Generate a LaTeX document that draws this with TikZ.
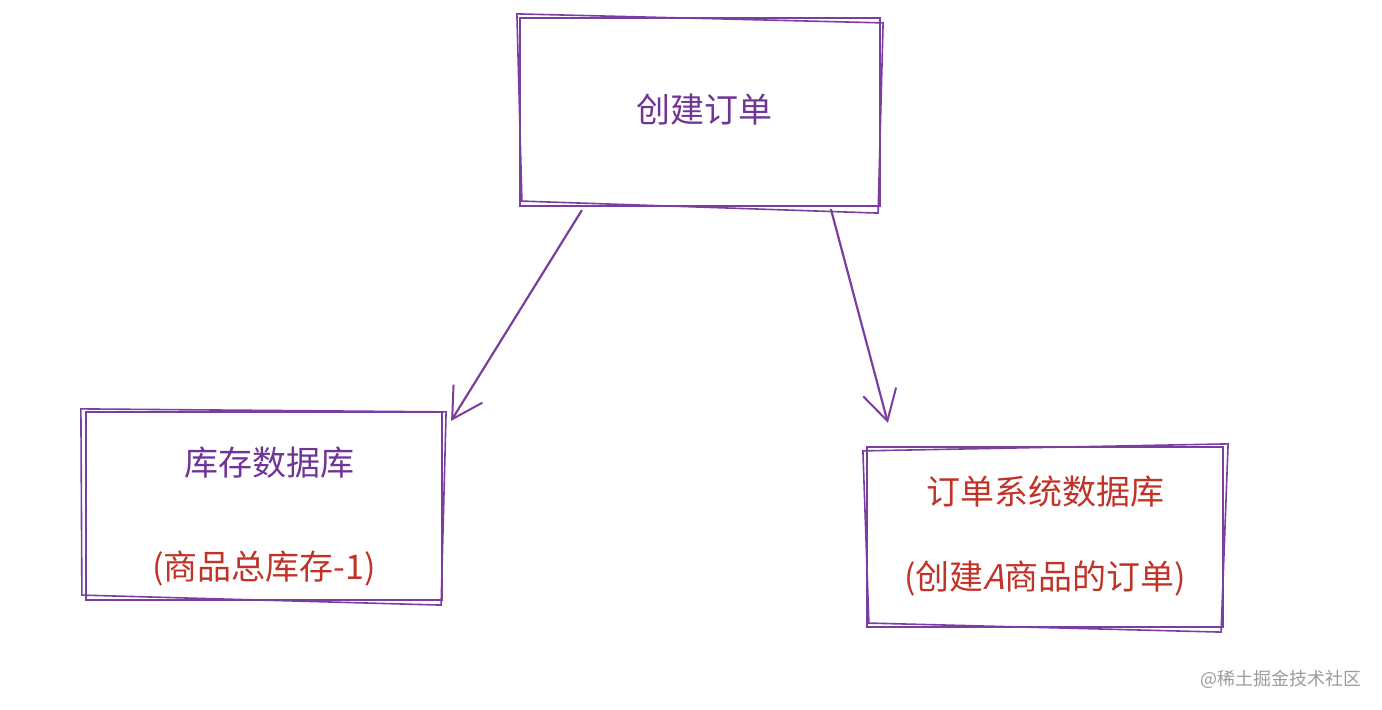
\documentclass[tikz,border=0pt]{standalone}
\usepackage{fontspec}
\setmainfont{Noto Sans CJK SC}
\newfontfamily\slantfont{Noto Sans CJK SC}[FakeSlant=0.25]
\usepackage{xcolor}
\definecolor{pen}{RGB}{122, 62, 160}
\definecolor{inkpurple}{RGB}{112, 52, 150}
\definecolor{inkred}{RGB}{192, 52, 40}
\definecolor{mark}{RGB}{155, 155, 155}
\usetikzlibrary{calc,arrows.meta}

\tikzset{
    sketchbox/.style={draw=pen, line width=1.1pt, inner sep=0pt},
    sketchline/.style={pen, line width=0.8pt},
    flow/.style={pen, line width=1.1pt, -{Straight Barb[length=15pt, width=17pt, line width=1pt]}},
    label/.style={font=\fontsize{17}{20}\selectfont},
}

\begin{document}
\begin{tikzpicture}[x=0.5pt, y=-0.5pt]
    \useasboundingbox (0,0) rectangle (1382,710);

    % The three boxes
    \node[sketchbox, minimum width=180pt, minimum height=94pt] (order) at (700,112) {};
    \node[sketchbox, minimum width=178pt, minimum height=94pt] (stock) at (264,506) {};
    \node[sketchbox, minimum width=178pt, minimum height=90pt] (orderdb) at (1045,537) {};

    % Second strokes, for the hand-drawn look
    \draw[sketchline] ($(order.north west)+(-2,-3)$) -- ($(order.north east)+(2,6)$) -- ($(order.south east)+(-3,6)$) -- ($(order.south west)+(3,-6)$) -- cycle;
    \draw[sketchline] ($(stock.north west)+(-4,-2)$) -- ($(stock.north east)+(3,1)$) -- ($(stock.south east)+(-2,4)$) -- ($(stock.south west)+(-3,-6)$) -- cycle;
    \draw[sketchline] ($(orderdb.north west)+(-3,5)$) -- ($(orderdb.north east)+(4,-2)$) -- ($(orderdb.south east)+(-3,4)$) -- ($(orderdb.south west)+(3,-5)$) -- cycle;

    % Texts
    \node[label, text=inkpurple] (ordertext) at (704,110) {创建订单};
    \node[label, text=inkpurple] (stocktitle) at (269,463) {库存数据库};
    \node[label, text=inkred] (stocknote) at (264,568) {(商品总库存-1)};
    \node[label, text=inkred] (orderdbtitle) at (1045,492) {订单系统数据库};
    \node[label, text=inkred] (orderdbnote) at (1045,578) {(创建{\slantfont A}商品的订单)};

    % Arrows
    \coordinate (stockin) at ($(stock.north east)+(8,10)$);
    \coordinate (orderdbin) at ($(orderdb.north west)+(22,-23)$);
    \draw[flow] ($(order.south west)+(63,3)$) -- (stockin);
    \draw[flow] ($(order.south west)+(312,2)$) -- (orderdbin);

    \node[text=mark, font=\fontsize{9}{11}\selectfont] (brand) at (1281,679) {@稀土掘金技术社区};
\end{tikzpicture}
\end{document}
